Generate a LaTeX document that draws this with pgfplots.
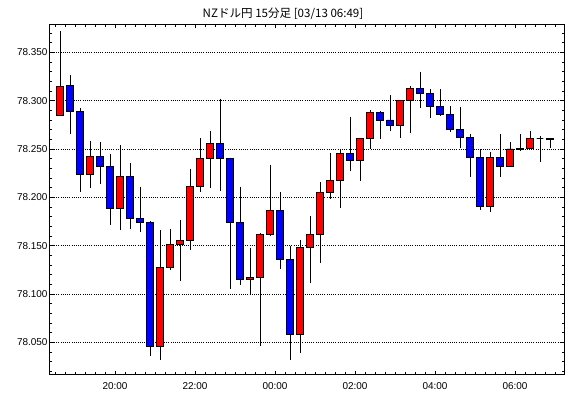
\documentclass[border=0pt]{standalone}
\usepackage{pgfplots}
\pgfplotsset{compat=1.18}
\usepackage{pgfplotstable}
\usepackage{fontspec}
\setmainfont{Liberation Sans}
\newfontfamily\cjk{Noto Sans CJK JP}

\pgfplotstableread{
i O H L C
0 78.285 78.372 78.285 78.315
1 78.316 78.327 78.265 78.289
2 78.289 78.292 78.206 78.224
3 78.224 78.258 78.210 78.242
4 78.242 78.257 78.214 78.232
5 78.232 78.245 78.171 78.188
6 78.188 78.254 78.166 78.222
7 78.222 78.236 78.167 78.178
8 78.178 78.211 78.164 78.174
9 78.174 78.175 78.036 78.046
10 78.046 78.166 78.032 78.127
11 78.127 78.167 78.125 78.151
12 78.151 78.177 78.113 78.155
13 78.155 78.229 78.145 78.211
14 78.211 78.261 78.205 78.240
15 78.240 78.269 78.210 78.256
16 78.256 78.302 78.207 78.240
17 78.240 78.241 78.105 78.174
18 78.174 78.211 78.109 78.115
19 78.115 78.148 78.100 78.117
20 78.117 78.163 78.046 78.162
21 78.162 78.233 78.160 78.186
22 78.186 78.205 78.126 78.136
23 78.136 78.150 78.032 78.058
24 78.058 78.156 78.039 78.148
25 78.148 78.181 78.111 78.162
26 78.162 78.216 78.132 78.205
27 78.205 78.246 78.198 78.217
28 78.217 78.250 78.189 78.245
29 78.245 78.283 78.227 78.238
30 78.238 78.261 78.217 78.261
31 78.261 78.290 78.250 78.288
32 78.288 78.289 78.260 78.280
33 78.280 78.306 78.269 78.274
34 78.274 78.300 78.261 78.300
35 78.300 78.315 78.267 78.313
36 78.313 78.330 78.292 78.307
37 78.307 78.312 78.282 78.294
38 78.294 78.312 78.284 78.286
39 78.286 78.294 78.268 78.270
40 78.270 78.293 78.251 78.262
41 78.262 78.266 78.221 78.241
42 78.241 78.250 78.187 78.191
43 78.191 78.247 78.185 78.241
44 78.241 78.266 78.221 78.232
45 78.232 78.257 78.231 78.250
46 78.250 78.265 78.248 78.251
47 78.251 78.269 78.250 78.261
48 78.261 78.263 78.237 78.261
49 78.261 78.261 78.251 78.260
}\ohlc

\begin{document}
\begin{tikzpicture}
\path[use as bounding box] (0,0) rectangle (570bp,398bp);
\node[font=\cjk\fontsize{11.6}{13}\selectfont, inner sep=0pt] at (283bp,384bp) {NZドル円 15分足 [03/13 06:49]};
\begin{axis}[
  at={(49.5bp,23.5bp)}, anchor=south west,
  scale only axis, width=514.8bp, height=350.2bp,
  xmin=-0.55, xmax=50.93, ymin=78.0167, ymax=78.379,
  axis line style={black, line width=1.2bp},
  xtick={6,14,22,30,38,46},
  xticklabels={20:00,22:00,00:00,02:00,04:00,06:00},
  minor xtick={0,1,...,50},
  ytick={78.05,78.1,78.15,78.2,78.25,78.3,78.35},
  yticklabels={78.050,78.100,78.150,78.200,78.250,78.300,78.350},
  minor ytick={78.02,78.03,78.04,78.06,78.07,78.08,78.09,78.11,78.12,78.13,78.14,78.16,78.17,78.18,78.19,78.21,78.22,78.23,78.24,78.26,78.27,78.28,78.29,78.31,78.32,78.33,78.34,78.36,78.37},
  tick align=inside, major tick length=4bp, minor tick length=2.5bp,
  every tick/.style={black, line width=0.8bp},
  ymajorgrids,
  major grid style={black, line width=0.9bp, dash pattern=on 1bp off 1.2bp},
  tick label style={font=\fontsize{10}{12}\selectfont},
  xticklabel style={yshift=-5bp},
  yticklabel style={xshift=1.5bp},
]
\addplot[draw=none, mark=none, forget plot,
  error bars/.cd, y dir=both, y explicit, error mark=none,
  error bar style={draw=black, solid, line width=1bp}]
  table[x expr=\thisrow{i}+0.5, y=H, y error plus expr=0, y error minus expr=\thisrow{H}-\thisrow{L}] \ohlc;
\addplot[ybar, bar width=0.62, bar shift=0pt, stack plots=y, draw=none, fill=none, forget plot]
  table[x expr=\thisrow{i}+0.5, y expr={min(\thisrow{O},\thisrow{C})}] \ohlc;
\addplot[ybar, bar width=0.62, bar shift=0pt, stack plots=y, draw=black, line width=0.9bp, fill=red, forget plot]
  table[x expr=\thisrow{i}+0.5, y expr={max(\thisrow{C}-\thisrow{O},0)}] \ohlc;
\addplot[ybar, bar width=0.62, bar shift=0pt, stack plots=y, draw=black, line width=0.9bp, fill=blue, forget plot]
  table[x expr=\thisrow{i}+0.5, y expr={max(\thisrow{O}-\thisrow{C},0)}] \ohlc;
\end{axis}
\end{tikzpicture}
\end{document}
